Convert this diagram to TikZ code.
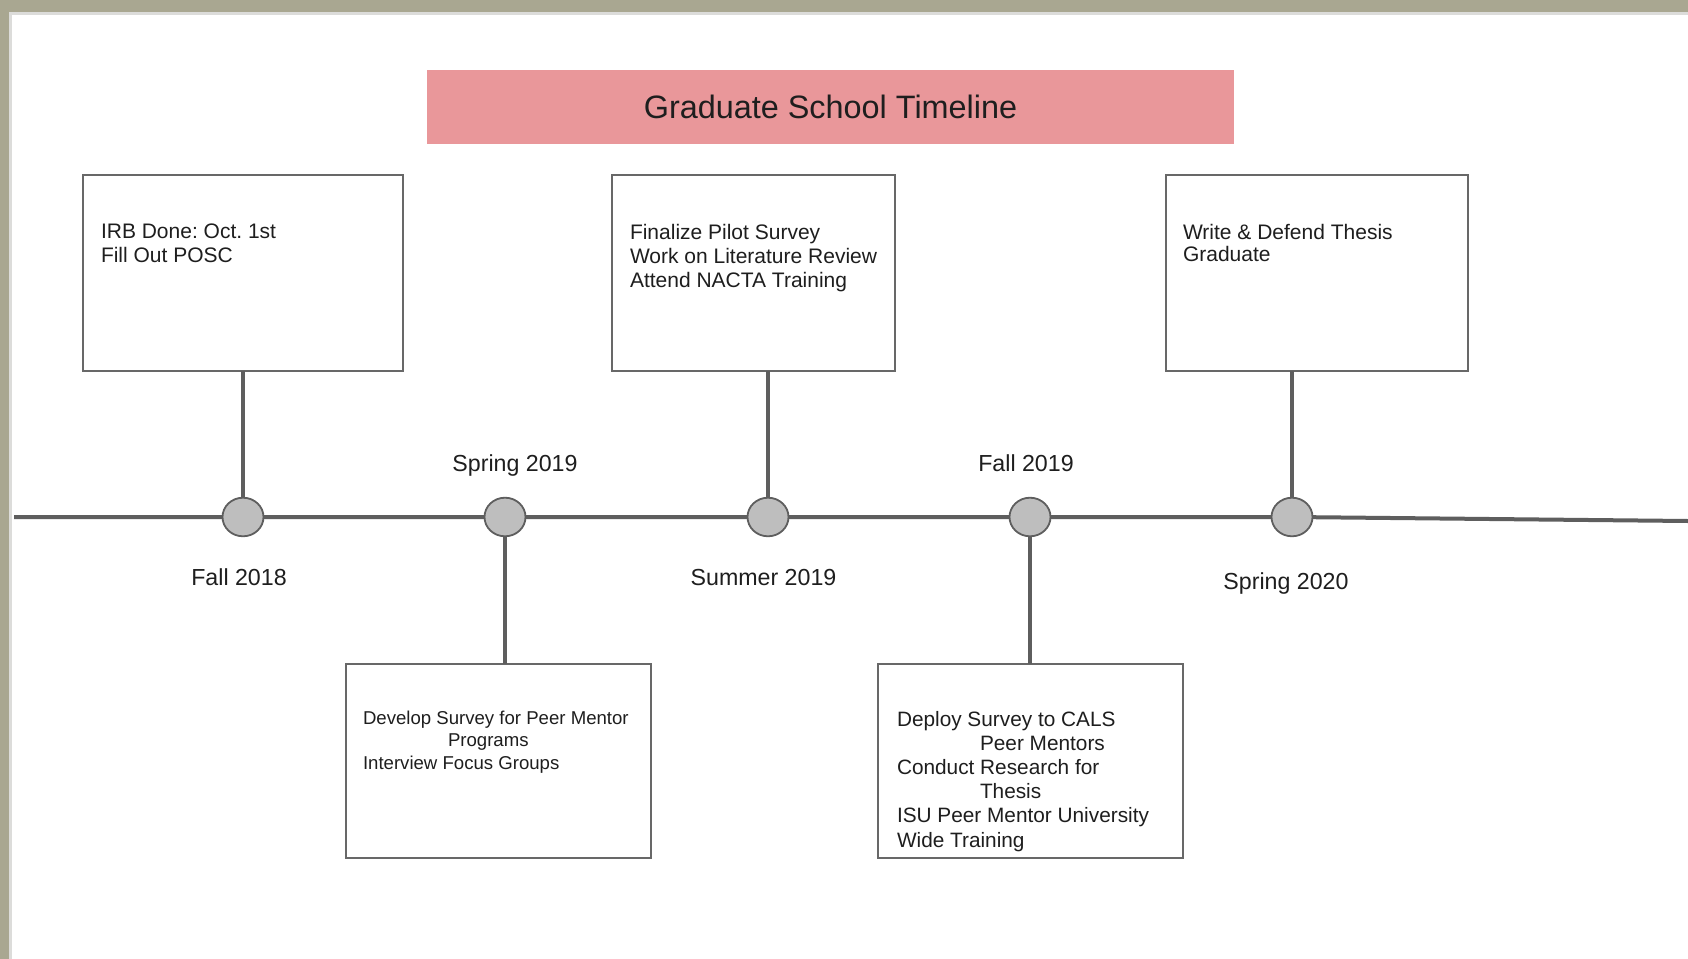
\documentclass[tikz,border=0pt]{standalone}
\usepackage{fontspec}
\setmainfont{Liberation Sans}
\usetikzlibrary{shapes.geometric}
\definecolor{framec}{HTML}{A9A791}
\definecolor{frameedge}{HTML}{DCDCDA}
\definecolor{titlec}{HTML}{E9979A}
\definecolor{linec}{HTML}{5E5E5E}
\definecolor{dotfill}{HTML}{BEBEBE}
\definecolor{boxc}{HTML}{686868}
\definecolor{inkc}{HTML}{1E1E1E}
\frenchspacing
\begin{document}
\begin{tikzpicture}[x=0.5pt,y=-0.5pt,
  every node/.style={inner sep=0pt,outer sep=0pt,text=inkc},
  eventbox/.style={draw=boxc,line width=1.2pt,fill=white,rectangle,
    anchor=north west,minimum height=98pt},
  lowbox/.style={eventbox,minimum height=97pt},
  boxtext/.style={anchor=north west,align=left,
    font=\fontsize{10.5pt}{11.75pt}\selectfont},
  milestone/.style={ellipse,draw=linec,line width=0.9pt,fill=dotfill,
    minimum width=20.5pt,minimum height=19.3pt},
  axis/.style={draw=linec,line width=2pt},
  stem/.style={draw=linec,line width=2pt},
  datelabel/.style={anchor=base,font=\fontsize{11.6pt}{13pt}\selectfont}]

% page frame
\fill[framec] (0,0) rectangle (1688,959);
\fill[frameedge] (9,12) rectangle (1688,959);
\fill[white] (12,15) rectangle (1688,959);
\useasboundingbox (0,0) rectangle (1688,959);

% title banner
\node[fill=titlec,minimum width=403.5pt,minimum height=37pt,
  font=\fontsize{16.2pt}{19pt}\selectfont] (title) at (830.5,107)
  {Graduate School Timeline};

% event boxes above the line
\node[eventbox,minimum width=160pt] (b1) at (83,175) {};
\node[eventbox,minimum width=141.5pt] (b2) at (612,175) {};
\node[eventbox,minimum width=151pt] (b3) at (1166,175) {};
% event boxes below the line
\node[lowbox,minimum width=152.5pt] (b4) at (346,664) {};
\node[lowbox,minimum width=152.5pt] (b5) at (878,664) {};

\node[boxtext] (t1) at (101,224) {IRB Done: Oct. 1st\\Fill Out POSC};
\node[boxtext,font=\fontsize{10.5pt}{12pt}\selectfont] (t2) at (630,224)
  {Finalize Pilot Survey\\Work on Literature Review\\Attend NACTA Training};
\node[boxtext,font=\fontsize{10.5pt}{11pt}\selectfont] (t3) at (1183,224)
  {Write \& Defend Thesis\\Graduate};
\node[boxtext,font=\fontsize{9.3pt}{11.15pt}\selectfont] (t4) at (363,711)
  {Develop Survey for Peer Mentor\\\hspace*{42.5pt}Programs\\Interview Focus Groups};
\node[boxtext,font=\fontsize{10.4pt}{12.1pt}\selectfont] (t5) at (897,711)
  {Deploy Survey to CALS\\\hspace*{41.5pt}Peer Mentors\\Conduct Research for\\
   \hspace*{41.5pt}Thesis\\ISU Peer Mentor University\\Wide Training};

% milestones on the line
\node[milestone] (m1) at (243,517) {};
\node[milestone] (m2) at (505,517) {};
\node[milestone] (m3) at (768,517) {};
\node[milestone] (m4) at (1030,517) {};
\node[milestone] (m5) at (1292,517) {};

\coordinate (tlstart) at (14,517);
\coordinate (tlend) at (1688,521);

% timeline
\draw[axis] (tlstart) -- (m1) -- (m2) -- (m3) -- (m4) -- (m5) -- (tlend);

% stems to the boxes
\draw[stem] (m1) -- (m1 |- b1.south);
\draw[stem] (m2) -- (m2 |- b4.north);
\draw[stem] (m3) -- (m3 |- b2.south);
\draw[stem] (m4) -- (m4 |- b5.north);
\draw[stem] (m5) -- (m5 |- b3.south);

% term labels
\node[datelabel] (l1) at (239,585) {Fall 2018};
\node[datelabel] (l2) at (515,471.5) {Spring 2019};
\node[datelabel] (l3) at (763.5,585.5) {Summer 2019};
\node[datelabel] (l4) at (1026,471.5) {Fall 2019};
\node[datelabel] (l5) at (1286,589) {Spring 2020};
\end{tikzpicture}
\end{document}
